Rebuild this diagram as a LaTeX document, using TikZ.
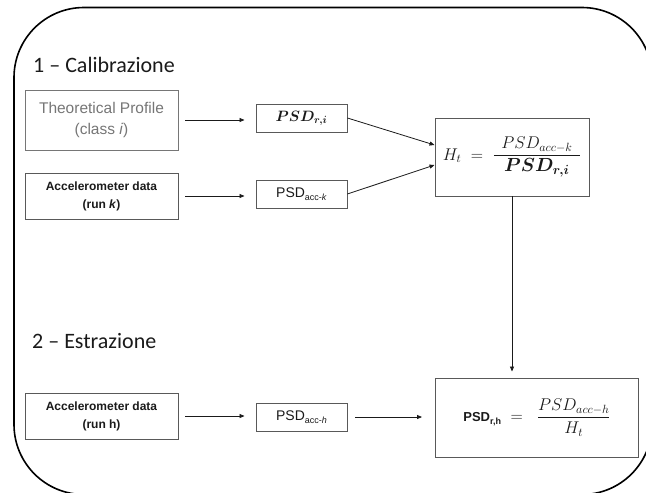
\RequirePackage{fix-cm}
\documentclass[tikz,border=0pt]{standalone}
\usepackage{amsmath}
\usepackage{fontspec}
\setmainfont{Liberation Sans}
\newfontfamily\headfont{Carlito}
\usetikzlibrary{arrows.meta}

\definecolor{boxline}{HTML}{595959}
\definecolor{softgray}{HTML}{767676}
\definecolor{ink}{HTML}{1A1A1A}

% subscript set in small upright text, used for the PSD labels
\newcommand{\lowsub}[1]{\raisebox{-3pt}{\fontsize{9}{9}\selectfont #1}}
% fraction whose bar runs a little past its parts
\newcommand{\widefrac}[2]{\dfrac{\mkern8mu #1\mkern8mu}{\mkern8mu #2\mkern8mu}}

\begin{document}
\begin{tikzpicture}[x=1pt,y=-1pt,
  box/.style={draw=boxline, line width=0.9pt, inner sep=0pt, align=center, text=ink},
  inbox/.style={box, minimum width=153pt, font=\fontsize{12}{18}\selectfont\bfseries},
  psdbox/.style={box, minimum width=91pt, minimum height=28pt, font=\fontsize{14}{16}\selectfont},
  arr/.style={draw=ink, line width=0.8pt, -{Triangle[length=5pt,width=4pt]}},
  head/.style={anchor=base west, inner sep=0pt, font=\headfont\fontsize{22}{26}\selectfont, text=ink}]

\useasboundingbox (0,0) rectangle (646,493);

% outer rounded frame, partly running off the page
\begin{scope}
  \clip (0,0) rectangle (646,493);
  \draw[line width=1.6pt, rounded corners=70pt] (14,7.5) rectangle (652,494.5);
\end{scope}

% section headings
\node[head] (h1) at (33,72) {1 – Calibrazione};
\node[head] (h2) at (32,348) {2 – Estrazione};

% calibration stage
\node[box, draw=softgray, text=softgray, minimum width=153pt, minimum height=60pt,
      font=\fontsize{15.5}{21}\selectfont] (theo) at (101.5,120)
      {Theoretical Profile\\(class \textit{i})};
\node[inbox, minimum height=46pt] (acck) at (101.5,196)
      {Accelerometer data\\(run \textit{k})};
\node[psdbox, font=\fontsize{15}{16}\selectfont] (psdri) at (301.5,118) {$\boldsymbol{PSD_{r,i}}$};
\node[psdbox] (psdak) at (301.5,194) {PSD\lowsub{acc-\textit{k}}};
\node[box, minimum width=154pt, minimum height=78pt, font=\fontsize{17}{18}\selectfont] (ht) at (512,157)
      {$H_t \;=\; \widefrac{PSD_{acc-k}}{\text{\fontsize{19}{20}\selectfont$\boldsymbol{PSD_{r,i}}$}}$};

% extraction stage
\node[inbox, minimum height=46pt] (acch) at (101.5,416)
      {Accelerometer data\\(run h)};
\node[psdbox] (psdah) at (301.5,417) {PSD\lowsub{acc-\textit{h}}};
\node[box, minimum width=203pt, minimum height=79pt, font=\fontsize{17}{18}\selectfont] (prh) at (537,417.5)
      {{\fontsize{13}{15}\selectfont\bfseries PSD\lowsub{\bfseries r,h}}$\;\;=\;\;\dfrac{PSD_{acc-h}}{H_t}$};

% connectors
\draw[arr, shorten <=7pt, shorten >=11pt] (theo.east) -- (theo.east -| psdri.west);
\draw[arr, shorten <=7pt, shorten >=11pt] (acck.east) -- (acck.east -| psdak.west);
\draw[arr] (psdri.east) -- ([yshift=12pt]ht.west);
\draw[arr] (psdak.east) -- ([yshift=-8pt]ht.west);
\draw[arr, shorten >=6pt] (ht.south) -- (ht.south |- prh.north);
\draw[arr, shorten <=7pt, shorten >=11pt] (acch.east) -- (acch.east -| psdah.west);
\draw[arr, shorten <=8pt, shorten >=13pt] (psdah.east) -- (psdah.east -| prh.west);

\end{tikzpicture}
\end{document}
